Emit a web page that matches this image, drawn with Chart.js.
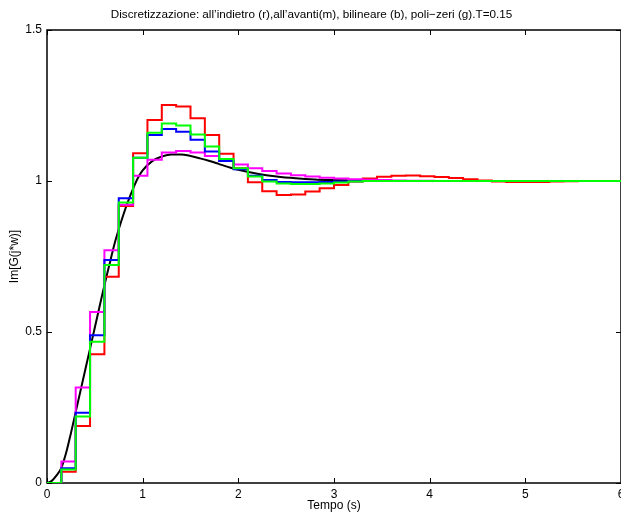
<!DOCTYPE html>
<html>
<head>
<meta charset="utf-8">
<script src="https://cdn.jsdelivr.net/npm/chart.js@4.4.1/dist/chart.umd.min.js"></script>
<style>
    html, body { margin: 0; padding: 0; background: #fff; }
    #wrap { width: 621px; height: 515px; }
</style>
</head>
<body>
<div id="wrap"><canvas id="step-chart" width="621" height="515"></canvas></div>
<script>
const chartTitle = 'Discretizzazione: all\u2019indietro (r),all\u2019avanti(m), bilineare (b), poli\u2212zeri (g).T=0.15';

// istanti di campionamento (T = 0.15)
const sampleTimes = [0, 0.15, 0.3, 0.45, 0.6, 0.75, 0.9, 1.05, 1.2, 1.35, 1.5, 1.65, 1.8, 1.95, 2.1, 2.25, 2.4, 2.55, 2.7, 2.85,
    3.0, 3.15, 3.3, 3.45, 3.6, 3.75, 3.9, 4.05, 4.2, 4.35, 4.5, 4.65, 4.8, 4.95, 5.1, 5.25, 5.4, 5.55, 5.7, 5.85, 6.0];

const backwardValues = [0, 0.037, 0.189, 0.426, 0.683, 0.917, 1.092, 1.202, 1.252, 1.247, 1.208, 1.152, 1.090, 1.042, 0.996,
    0.966, 0.954, 0.955, 0.965, 0.976, 0.987, 0.998, 1.008, 1.014, 1.017, 1.018, 1.016, 1.013, 1.010, 1.006,
    1.002, 0.998, 0.997, 0.997, 0.997, 0.998, 0.999, 1.0, 1.0, 1.0, 1.0];
const forwardValues = [0, 0.071, 0.316, 0.566, 0.771, 0.921, 1.017, 1.070, 1.094, 1.099, 1.094, 1.083, 1.066, 1.055, 1.042,
    1.033, 1.025, 1.019, 1.015, 1.011, 1.008, 1.006, 1.004, 1.003, 1.002, 1.001, 1.001, 1.0, 1.0, 1.0,
    1.0, 1.0, 1.0, 1.0, 1.0, 1.0, 1.0, 1.0, 1.0, 1.0, 1.0];
const bilinearValues = [0, 0.049, 0.233, 0.489, 0.738, 0.943, 1.077, 1.152, 1.172, 1.163, 1.137, 1.098, 1.066, 1.039, 1.017,
    1.003, 0.997, 0.996, 0.996, 0.997, 0.998, 0.999, 1.0, 1.0, 1.0, 1.0, 1.0, 1.0, 1.0, 1.0,
    1.0, 1.0, 1.0, 1.0, 1.0, 1.0, 1.0, 1.0, 1.0, 1.0, 1.0];
const poleZeroValues = [0, 0.045, 0.220, 0.468, 0.722, 0.929, 1.077, 1.160, 1.190, 1.184, 1.154, 1.114, 1.073, 1.042, 1.015,
    0.998, 0.992, 0.990, 0.990, 0.992, 0.995, 0.998, 1.0, 1.0, 1.0, 1.0, 1.0, 1.0, 1.0, 1.0,
    1.0, 1.0, 1.0, 1.0, 1.0, 1.0, 1.0, 1.0, 1.0, 1.0, 1.0];

// risposta continua
const contTimes = [0, 0.05, 0.1, 0.15, 0.2, 0.25, 0.3, 0.35, 0.4, 0.45, 0.5, 0.55, 0.6, 0.65, 0.7, 0.75, 0.8, 0.85, 0.9, 0.95,
    1.0, 1.1, 1.2, 1.3, 1.4, 1.5, 1.6, 1.7, 1.8, 1.9, 2.0, 2.2, 2.4, 2.6, 2.8, 3.0, 3.3, 3.6, 4.0, 5.0, 6.0];
const contValues = [0, 0.007, 0.025, 0.05, 0.10, 0.165, 0.235, 0.305, 0.375, 0.445, 0.515, 0.585, 0.655, 0.72, 0.785, 0.84,
    0.89, 0.935, 0.975, 1.01, 1.035, 1.066, 1.081, 1.088, 1.088, 1.083, 1.075, 1.066, 1.056, 1.046,
    1.037, 1.024, 1.015, 1.009, 1.005, 1.003, 1.001, 1.0, 1.0, 1.0, 1.0];

const xTicks = [0, 1, 2, 3, 4, 5, 6];
const yTicks = [0, 0.5, 1, 1.5];

const fontFamily = '"Liberation Sans", Arial, Helvetica, sans-serif';
const baseFont = { family: fontFamily, size: 12 };

function toPoints(times, values) {
    return times.map((t, i) => ({ x: t, y: values[i] }));
}

function stairs(values, color) {
    return {
        data: toPoints(sampleTimes, values),
        borderColor: color,
        borderWidth: 2,
        stepped: true,
        pointRadius: 0,
        fill: false
    };
}

// riquadro con tacche interne stile matlab + titolo
const matlabAxes = {
    id: 'matlabAxes',
    beforeDatasetsDraw(chart) {
        const { ctx, chartArea: a, scales: { x, y } } = chart;
        ctx.save();
        ctx.strokeStyle = '#000';
        ctx.lineWidth = 1.5;
        ctx.strokeRect(a.left, a.top, a.right - a.left, a.bottom - a.top);
        ctx.lineWidth = 1;
        ctx.beginPath();
        xTicks.forEach(v => {
            const px = Math.round(x.getPixelForValue(v)) + 0.5;
            ctx.moveTo(px, a.bottom); ctx.lineTo(px, a.bottom - 5);
            ctx.moveTo(px, a.top); ctx.lineTo(px, a.top + 5);
        });
        yTicks.forEach(v => {
            const py = Math.round(y.getPixelForValue(v)) + 0.5;
            ctx.moveTo(a.left, py); ctx.lineTo(a.left + 5, py);
            ctx.moveTo(a.right, py); ctx.lineTo(a.right - 5, py);
        });
        ctx.stroke();
        ctx.restore();
    },
    afterDraw(chart) {
        const { ctx } = chart;
        ctx.save();
        ctx.fillStyle = '#000';
        ctx.font = '11.7px ' + fontFamily;
        ctx.textAlign = 'center';
        ctx.textBaseline = 'middle';
        ctx.fillText(chartTitle, 311.5, 15);
        ctx.restore();
    }
};

const ctx = document.getElementById('step-chart').getContext('2d');
const stepChart = new Chart(ctx, {
    type: 'line',
    data: {
        datasets: [
            stairs(poleZeroValues, '#00ff00'),
            stairs(bilinearValues, '#0000ff'),
            stairs(forwardValues, '#ff00ff'),
            stairs(backwardValues, '#ff0000'),
            {
                data: toPoints(contTimes, contValues),
                borderColor: '#000',
                borderWidth: 2,
                cubicInterpolationMode: 'monotone',
                pointRadius: 0,
                fill: false
            }
        ]
    },
    options: {
        responsive: false,
        animation: false,
        layout: { padding: { top: 30, left: 0, right: 0, bottom: 0 } },
        scales: {
            x: {
                type: 'linear',
                min: 0,
                max: 6,
                afterBuildTicks: s => { s.ticks = xTicks.map(v => ({ value: v })); },
                afterFit: s => { s.height = 32; s.paddingLeft = 0; s.paddingRight = 0; },
                grid: { display: false, drawTicks: false },
                border: { display: false },
                ticks: { padding: 4, color: '#000', font: baseFont, maxRotation: 0, autoSkip: false, callback: v => String(v) },
                title: { display: true, text: 'Tempo (s)', color: '#000', font: baseFont, padding: { top: 0, bottom: 2 } }
            },
            y: {
                type: 'linear',
                min: 0,
                max: 1.5,
                afterBuildTicks: s => { s.ticks = yTicks.map(v => ({ value: v })); },
                afterFit: s => { s.width = 47; s.paddingTop = 0; s.paddingBottom = 0; },
                grid: { display: false, drawTicks: false },
                border: { display: false },
                ticks: { padding: 5, color: '#000', font: baseFont, autoSkip: false, callback: v => String(v) },
                title: { display: true, text: 'Im[G(j*w)]', color: '#000', font: baseFont, padding: { top: 7, bottom: 0 } }
            }
        },
        plugins: {
            legend: { display: false },
            tooltip: { enabled: false },
            title: { display: false }
        }
    },
    plugins: [matlabAxes]
});
</script>
</body>
</html>
